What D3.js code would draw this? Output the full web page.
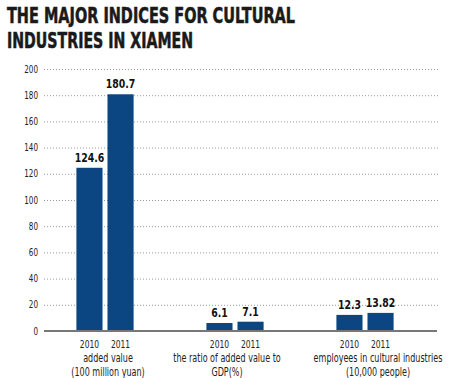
<!DOCTYPE html>
<html>
<head>
<meta charset="utf-8">
<script src="https://cdn.jsdelivr.net/npm/d3@7"></script>
<style>
  body { margin: 0; background: #fff; }
  svg { display: block; }
</style>
</head>
<body>
<div id="chart"></div>
<script>
const title = ["THE MAJOR INDICES FOR CULTURAL", "INDUSTRIES IN XIAMEN"];
const categories = ["added value", "ratio", "employees"];
const categoryLabels = [
  ["added value", "(100 million yuan)"],
  ["the ratio of added value to", "GDP(%)"],
  ["employees in cultural industries", "(10,000 people)"]
];
const years = ["2010", "2011"];
const values2010 = [124.6, 6.1, 12.3];
const values2011 = [180.7, 7.1, 13.82];
const valueLabels2010 = ["124.6", "6.1", "12.3"];
const valueLabels2011 = ["180.7", "7.1", "13.82"];
const yTicks = [0, 20, 40, 60, 80, 100, 120, 140, 160, 180, 200];

const width = 450, height = 378;
const font = "'DejaVu Sans', sans-serif";
const barColor = "#0b4682";
// the caption under each group sits a little off the bar pair
const catLabelDx = [3, -8, 13];

const rows = categories.map((c, i) => ({
  cat: c,
  idx: i,
  bars: [
    { year: years[0], value: values2010[i], label: valueLabels2010[i] },
    { year: years[1], value: values2011[i], label: valueLabels2011[i] }
  ]
}));

// no narrow font installed, so squeeze text with a horizontal scale
function place(sel, fx, fy, k) {
  sel.attr("transform", (d, i) => `translate(${fx(d, i)},${fy(d, i)}) scale(${k},1)`);
}

const svg = d3.select("#chart").append("svg")
  .attr("width", width)
  .attr("height", height);

// title
svg.append("g")
  .selectAll("text")
  .data(title)
  .join("text")
    .attr("x", 7)
    .attr("y", (d, i) => 23 + i * 25)
    .attr("textLength", (d, i) => i === 0 ? 288 : 186)
    .attr("lengthAdjust", "spacingAndGlyphs")
    .style("font-family", font)
    .style("font-size", "22px")
    .style("font-weight", "bold")
    .style("fill", "#1a1a1a")
    .style("stroke", "#1a1a1a")
    .style("stroke-width", 0.6)
    .text(d => d);

const y = d3.scaleLinear().domain([0, 200]).range([331, 69]);

const x0 = d3.scaleBand()
  .domain(categories)
  .range([40, 430])
  .paddingInner(0.56)
  .paddingOuter(0.28);

const x1 = d3.scaleBand()
  .domain(years)
  .range([0, x0.bandwidth()])
  .paddingInner(0.16);

// gridlines
svg.append("g")
  .selectAll("line")
  .data(yTicks.slice(1))
  .join("line")
    .attr("x1", 44)
    .attr("x2", 439)
    .attr("y1", d => y(d) + 0.5)
    .attr("y2", d => y(d) + 0.5)
    .attr("stroke", "#9a9a9a")
    .attr("stroke-width", 1)
    .attr("stroke-dasharray", "1,2");

// y axis labels
svg.append("g")
  .selectAll("text")
  .data(yTicks)
  .join("text")
    .attr("text-anchor", "end")
    .attr("dy", "0.35em")
    .style("font-family", font)
    .style("font-size", "10px")
    .style("fill", "#222")
    .text(d => d)
    .call(place, () => 38, d => y(d), 0.72);

// bars
const group = svg.append("g")
  .selectAll("g")
  .data(rows)
  .join("g")
    .attr("transform", d => `translate(${x0(d.cat)},0)`);

group.selectAll("rect")
  .data(d => d.bars)
  .join("rect")
    .attr("x", d => x1(d.year))
    .attr("width", x1.bandwidth())
    .attr("y", d => y(d.value))
    .attr("height", d => y(0) - y(d.value))
    .attr("fill", barColor);

group.selectAll("text.val")
  .data(d => d.bars)
  .join("text")
    .attr("class", "val")
    .attr("text-anchor", "middle")
    .style("font-family", font)
    .style("font-size", "13px")
    .style("font-weight", "bold")
    .style("fill", "#111")
    .text(d => d.label)
    .call(place, d => x1(d.year) + x1.bandwidth() / 2, d => y(d.value) - 6, 0.72);

// baseline
svg.append("line")
  .attr("x1", 44)
  .attr("x2", 437)
  .attr("y1", y(0))
  .attr("y2", y(0))
  .attr("stroke", "#777")
  .attr("stroke-width", 2);

// year labels
group.selectAll("text.year")
  .data(d => d.bars)
  .join("text")
    .attr("class", "year")
    .attr("text-anchor", "middle")
    .style("font-family", font)
    .style("font-size", "10.5px")
    .style("fill", "#222")
    .text(d => d.year)
    .call(place, d => x1(d.year) + x1.bandwidth() / 2, () => 348, 0.72);

// category labels
group.each(function(d) {
  d3.select(this).selectAll("text.cat")
    .data(categoryLabels[d.idx])
    .join("text")
      .attr("class", "cat")
      .attr("text-anchor", "middle")
      .style("font-family", font)
      .style("font-size", "11.5px")
      .style("fill", "#222")
      .text(t => t)
      .call(place, () => x0.bandwidth() / 2 + catLabelDx[d.idx], (t, j) => 362 + j * 14, 0.7);
});
</script>
</body>
</html>
